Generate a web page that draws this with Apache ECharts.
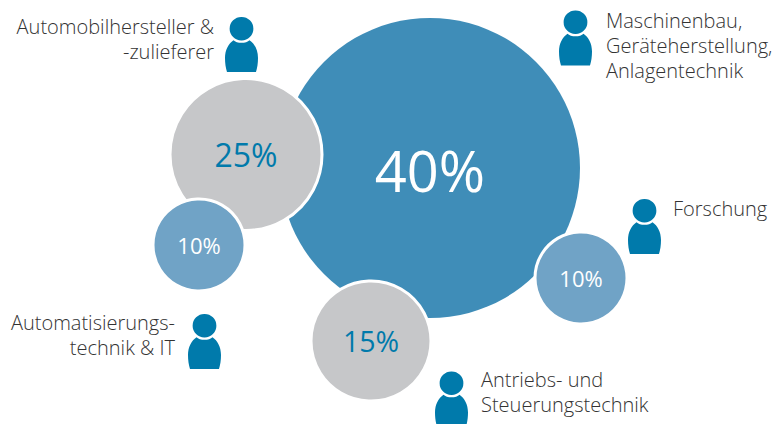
<!DOCTYPE html>
<html>
<head>
<meta charset="utf-8">
<style>
html, body { margin: 0; padding: 0; background: #fff; }
#main { width: 776px; height: 424px; }
</style>
<script src="https://cdn.jsdelivr.net/npm/echarts@6/dist/echarts.min.js"></script>
</head>
<body>
<div id="main"></div>
<script>
// data
var categories = ["Maschinenbau,\nGeräteherstellung,\nAnlagentechnik", "Automobilhersteller &\n-zulieferer", "Automatisierungs-\ntechnik & IT", "Antriebs- und\nSteuerungstechnik", "Forschung"];
var shares = [40, 25, 10, 15, 10];

// bubble layout, same order as categories
var bubbleX = [430, 246, 199, 371, 581];
var bubbleY = [168, 154.5, 245, 341, 278];
var bubbleSize = [300, 152, 92, 120, 92];
var bubbleColor = ["#3f8db8", "#c6c7c9", "#70a3c6", "#c6c7c9", "#70a3c6"];
var percentColor = ["#fff", "#007aab", "#fff", "#007aab", "#fff"];
var percentFont = [56, 32, 22, 28.5, 22];

// person icons and their captions
var iconX = [575.5, 241.5, 204.5, 451.5, 644.5];
var iconY = [38, 44.5, 341.5, 399, 226.5];
var captionX = [606, 214, 175, 481, 673];
var captionY = [45, 39, 335, 392, 208];
var captionAlign = ["left", "right", "right", "left", "left"];

var personPath = "path://M16.5 0a11.7 11.7 0 1 1 0 23.4a11.7 11.7 0 1 1 0-23.4z" +
  "M8.5 23.2C11.5 26.6 21.5 26.6 24.5 23.2C29.5 26.5 33 33 33 41C33 46 32.3 51 31 55L2 55C0.7 51 0 46 0 41C0 33 3.5 26.5 8.5 23.2z";

var myChart = echarts.init(document.getElementById("main"), null, { renderer: "svg" });

myChart.setOption({
  animation: false,
  textStyle: { fontFamily: "Open Sans" },
  grid: { left: 0, right: 0, top: 0, bottom: 0 },
  xAxis: { type: "value", min: 0, max: 776, show: false },
  yAxis: { type: "value", min: 0, max: 424, inverse: true, show: false },
  series: [
    {
      name: "Anteil",
      type: "scatter",
      silent: true,
      data: shares.map(function (v, i) {
        return {
          value: [bubbleX[i], bubbleY[i]],
          symbolSize: bubbleSize[i],
          itemStyle: {
            color: bubbleColor[i],
            opacity: 1,
            borderColor: i === 0 ? bubbleColor[i] : "#fff",
            borderWidth: i === 0 ? 0 : 3,
          },
          label: {
            show: true,
            position: "inside",
            offset: i === 0 ? [0, 2] : [0, 0],
            formatter: v + "%",
            color: percentColor[i],
            fontSize: percentFont[i],
          },
        };
      }),
    },
    {
      name: "Icons",
      type: "scatter",
      silent: true,
      symbol: personPath,
      symbolSize: [33, 55],
      itemStyle: { color: "#007aab", opacity: 1 },
      data: iconX.map(function (x, i) {
        return [x, iconY[i]];
      }),
    },
    {
      name: "Branchen",
      type: "scatter",
      silent: true,
      symbolSize: 1,
      itemStyle: { color: "transparent", opacity: 1 },
      data: categories.map(function (name, i) {
        return {
          value: [captionX[i], captionY[i]],
          label: {
            show: true,
            position: "inside",
            formatter: name,
            align: captionAlign[i],
            verticalAlign: "middle",
            color: "#333",
            fontSize: 20,
            fontWeight: 300,
            lineHeight: 25,
          },
        };
      }),
    },
  ],
});
</script>
</body>
</html>
